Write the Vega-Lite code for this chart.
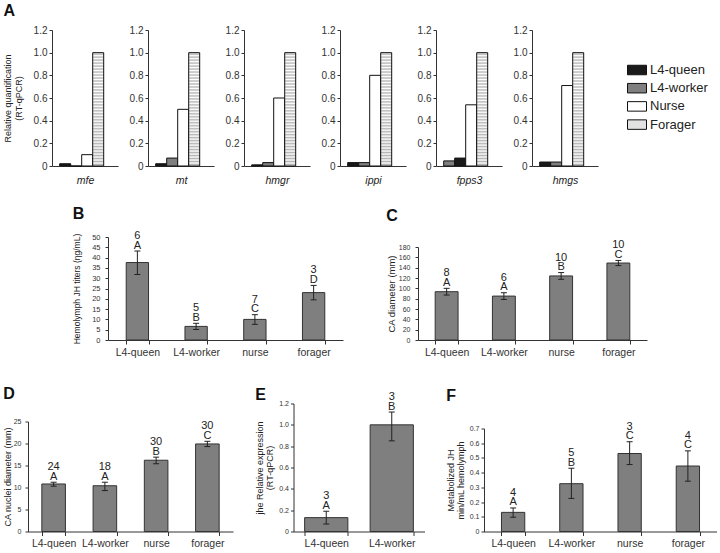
{
  "$schema": "https://vega.github.io/schema/vega-lite/v6.json",
  "background": "white",
  "padding": {"left": 2, "top": 3, "right": 0, "bottom": 0},
  "spacing": 19,
  "datasets": {
    "expr": [
      {"gene": "mfe", "caste": "L4-queen", "value": 0.02},
      {"gene": "mfe", "caste": "L4-worker", "value": 0},
      {"gene": "mfe", "caste": "Nurse", "value": 0.10},
      {"gene": "mfe", "caste": "Forager", "value": 1.0},
      {"gene": "mt", "caste": "L4-queen", "value": 0.02},
      {"gene": "mt", "caste": "L4-worker", "value": 0.07},
      {"gene": "mt", "caste": "Nurse", "value": 0.50},
      {"gene": "mt", "caste": "Forager", "value": 1.0},
      {"gene": "hmgr", "caste": "L4-queen", "value": 0.01},
      {"gene": "hmgr", "caste": "L4-worker", "value": 0.03},
      {"gene": "hmgr", "caste": "Nurse", "value": 0.60},
      {"gene": "hmgr", "caste": "Forager", "value": 1.0},
      {"gene": "ippi", "caste": "L4-queen", "value": 0.03},
      {"gene": "ippi", "caste": "L4-worker", "value": 0.03},
      {"gene": "ippi", "caste": "Nurse", "value": 0.80},
      {"gene": "ippi", "caste": "Forager", "value": 1.0},
      {"gene": "fpps3", "caste": "L4-worker", "value": 0.045},
      {"gene": "fpps3", "caste": "L4-queen", "value": 0.07},
      {"gene": "fpps3", "caste": "Nurse", "value": 0.54},
      {"gene": "fpps3", "caste": "Forager", "value": 1.0},
      {"gene": "hmgs", "caste": "L4-queen", "value": 0.035},
      {"gene": "hmgs", "caste": "L4-worker", "value": 0.035},
      {"gene": "hmgs", "caste": "Nurse", "value": 0.71},
      {"gene": "hmgs", "caste": "Forager", "value": 1.0}
    ]
  },
  "vconcat": [
    {
      "spacing": 0,
      "hconcat": [
        {"width": 1, "height": 1, "data": {"values": []}, "mark": {"type": "point", "opacity": 0}},
        {
          "title": {"text": "A", "offset": 6},
          "spacing": 11,
          "hconcat": [
            {
              "width": 66, "height": 136,
              "data": {"name": "expr"},
              "transform": [{"filter": {"field": "gene", "equal": "mfe"}}],
              "mark": {"type": "bar", "stroke": "#111", "strokeWidth": 1},
              "encoding": {
                "x": {"field": "caste", "type": "nominal", "sort": ["L4-queen", "L4-worker", "Nurse", "Forager"], "scale": {"paddingInner": 0, "paddingOuter": 1.1, "align": 0.35}, "axis": {"title": "mfe", "labels": false, "ticks": false, "titleFontStyle": "italic", "titleFontSize": 10.5, "titlePadding": 9}},
                "y": {"field": "value", "type": "quantitative", "scale": {"domain": [0, 1.2], "nice": false}, "axis": {"values": [0, 0.2, 0.4, 0.6, 0.8, 1, 1.2], "labelExpr": "datum.value == 0 ? '0' : format(datum.value, '.1f')", "labelFontSize": 10, "labelOverlap": false, "title": ["Relative quantification", "(RT-qPCR)"], "titleFontSize": 9, "titlePadding": 9.5}},
                "color": {"condition": {"test": "datum.caste === 'Forager'", "value": {"gradient": "linear", "x1": 0, "y1": 0, "x2": 0, "y2": 1, "stops": [{"offset": 0, "color": "#ffffff"}, {"offset": 0.0132, "color": "#b4b4b4"}, {"offset": 0.0263, "color": "#ffffff"}, {"offset": 0.0395, "color": "#b4b4b4"}, {"offset": 0.0526, "color": "#ffffff"}, {"offset": 0.0658, "color": "#b4b4b4"}, {"offset": 0.0789, "color": "#ffffff"}, {"offset": 0.0921, "color": "#b4b4b4"}, {"offset": 0.1053, "color": "#ffffff"}, {"offset": 0.1184, "color": "#b4b4b4"}, {"offset": 0.1316, "color": "#ffffff"}, {"offset": 0.1447, "color": "#b4b4b4"}, {"offset": 0.1579, "color": "#ffffff"}, {"offset": 0.1711, "color": "#b4b4b4"}, {"offset": 0.1842, "color": "#ffffff"}, {"offset": 0.1974, "color": "#b4b4b4"}, {"offset": 0.2105, "color": "#ffffff"}, {"offset": 0.2237, "color": "#b4b4b4"}, {"offset": 0.2368, "color": "#ffffff"}, {"offset": 0.25, "color": "#b4b4b4"}, {"offset": 0.2632, "color": "#ffffff"}, {"offset": 0.2763, "color": "#b4b4b4"}, {"offset": 0.2895, "color": "#ffffff"}, {"offset": 0.3026, "color": "#b4b4b4"}, {"offset": 0.3158, "color": "#ffffff"}, {"offset": 0.3289, "color": "#b4b4b4"}, {"offset": 0.3421, "color": "#ffffff"}, {"offset": 0.3553, "color": "#b4b4b4"}, {"offset": 0.3684, "color": "#ffffff"}, {"offset": 0.3816, "color": "#b4b4b4"}, {"offset": 0.3947, "color": "#ffffff"}, {"offset": 0.4079, "color": "#b4b4b4"}, {"offset": 0.4211, "color": "#ffffff"}, {"offset": 0.4342, "color": "#b4b4b4"}, {"offset": 0.4474, "color": "#ffffff"}, {"offset": 0.4605, "color": "#b4b4b4"}, {"offset": 0.4737, "color": "#ffffff"}, {"offset": 0.4868, "color": "#b4b4b4"}, {"offset": 0.5, "color": "#ffffff"}, {"offset": 0.5132, "color": "#b4b4b4"}, {"offset": 0.5263, "color": "#ffffff"}, {"offset": 0.5395, "color": "#b4b4b4"}, {"offset": 0.5526, "color": "#ffffff"}, {"offset": 0.5658, "color": "#b4b4b4"}, {"offset": 0.5789, "color": "#ffffff"}, {"offset": 0.5921, "color": "#b4b4b4"}, {"offset": 0.6053, "color": "#ffffff"}, {"offset": 0.6184, "color": "#b4b4b4"}, {"offset": 0.6316, "color": "#ffffff"}, {"offset": 0.6447, "color": "#b4b4b4"}, {"offset": 0.6579, "color": "#ffffff"}, {"offset": 0.6711, "color": "#b4b4b4"}, {"offset": 0.6842, "color": "#ffffff"}, {"offset": 0.6974, "color": "#b4b4b4"}, {"offset": 0.7105, "color": "#ffffff"}, {"offset": 0.7237, "color": "#b4b4b4"}, {"offset": 0.7368, "color": "#ffffff"}, {"offset": 0.75, "color": "#b4b4b4"}, {"offset": 0.7632, "color": "#ffffff"}, {"offset": 0.7763, "color": "#b4b4b4"}, {"offset": 0.7895, "color": "#ffffff"}, {"offset": 0.8026, "color": "#b4b4b4"}, {"offset": 0.8158, "color": "#ffffff"}, {"offset": 0.8289, "color": "#b4b4b4"}, {"offset": 0.8421, "color": "#ffffff"}, {"offset": 0.8553, "color": "#b4b4b4"}, {"offset": 0.8684, "color": "#ffffff"}, {"offset": 0.8816, "color": "#b4b4b4"}, {"offset": 0.8947, "color": "#ffffff"}, {"offset": 0.9079, "color": "#b4b4b4"}, {"offset": 0.9211, "color": "#ffffff"}, {"offset": 0.9342, "color": "#b4b4b4"}, {"offset": 0.9474, "color": "#ffffff"}, {"offset": 0.9605, "color": "#b4b4b4"}, {"offset": 0.9737, "color": "#ffffff"}, {"offset": 0.9868, "color": "#b4b4b4"}, {"offset": 1, "color": "#ffffff"}]}},
                  "field": "caste", "type": "nominal", "scale": {"domain": ["L4-queen", "L4-worker", "Nurse", "Forager"], "range": ["#1a1a1a", "#7f7f7f", "#ffffff", "#e2e2e2"]}, "legend": {"orient": "none", "legendX": 625, "legendY": 30, "title": null, "symbolType": "M-1,-0.5H1V0.5H-1Z", "symbolSize": 361, "symbolStrokeColor": "#111", "symbolStrokeWidth": 1, "labelFontSize": 13, "labelColor": "#222", "labelOffset": 3, "rowPadding": 1.2}}
              }
            },
            {
              "width": 66, "height": 136,
              "data": {"name": "expr"},
              "transform": [{"filter": {"field": "gene", "equal": "mt"}}],
              "mark": {"type": "bar", "stroke": "#111", "strokeWidth": 1},
              "encoding": {
                "x": {"field": "caste", "type": "nominal", "sort": ["L4-queen", "L4-worker", "Nurse", "Forager"], "scale": {"paddingInner": 0, "paddingOuter": 1.1, "align": 0.35}, "axis": {"title": "mt", "labels": false, "ticks": false, "titleFontStyle": "italic", "titleFontSize": 10.5, "titlePadding": 9}},
                "y": {"field": "value", "type": "quantitative", "scale": {"domain": [0, 1.2], "nice": false}, "axis": {"values": [0, 0.2, 0.4, 0.6, 0.8, 1, 1.2], "labelExpr": "datum.value == 0 ? '0' : format(datum.value, '.1f')", "labelFontSize": 10, "labelOverlap": false, "title": null}},
                "color": {"condition": {"test": "datum.caste === 'Forager'", "value": {"gradient": "linear", "x1": 0, "y1": 0, "x2": 0, "y2": 1, "stops": [{"offset": 0, "color": "#ffffff"}, {"offset": 0.0132, "color": "#b4b4b4"}, {"offset": 0.0263, "color": "#ffffff"}, {"offset": 0.0395, "color": "#b4b4b4"}, {"offset": 0.0526, "color": "#ffffff"}, {"offset": 0.0658, "color": "#b4b4b4"}, {"offset": 0.0789, "color": "#ffffff"}, {"offset": 0.0921, "color": "#b4b4b4"}, {"offset": 0.1053, "color": "#ffffff"}, {"offset": 0.1184, "color": "#b4b4b4"}, {"offset": 0.1316, "color": "#ffffff"}, {"offset": 0.1447, "color": "#b4b4b4"}, {"offset": 0.1579, "color": "#ffffff"}, {"offset": 0.1711, "color": "#b4b4b4"}, {"offset": 0.1842, "color": "#ffffff"}, {"offset": 0.1974, "color": "#b4b4b4"}, {"offset": 0.2105, "color": "#ffffff"}, {"offset": 0.2237, "color": "#b4b4b4"}, {"offset": 0.2368, "color": "#ffffff"}, {"offset": 0.25, "color": "#b4b4b4"}, {"offset": 0.2632, "color": "#ffffff"}, {"offset": 0.2763, "color": "#b4b4b4"}, {"offset": 0.2895, "color": "#ffffff"}, {"offset": 0.3026, "color": "#b4b4b4"}, {"offset": 0.3158, "color": "#ffffff"}, {"offset": 0.3289, "color": "#b4b4b4"}, {"offset": 0.3421, "color": "#ffffff"}, {"offset": 0.3553, "color": "#b4b4b4"}, {"offset": 0.3684, "color": "#ffffff"}, {"offset": 0.3816, "color": "#b4b4b4"}, {"offset": 0.3947, "color": "#ffffff"}, {"offset": 0.4079, "color": "#b4b4b4"}, {"offset": 0.4211, "color": "#ffffff"}, {"offset": 0.4342, "color": "#b4b4b4"}, {"offset": 0.4474, "color": "#ffffff"}, {"offset": 0.4605, "color": "#b4b4b4"}, {"offset": 0.4737, "color": "#ffffff"}, {"offset": 0.4868, "color": "#b4b4b4"}, {"offset": 0.5, "color": "#ffffff"}, {"offset": 0.5132, "color": "#b4b4b4"}, {"offset": 0.5263, "color": "#ffffff"}, {"offset": 0.5395, "color": "#b4b4b4"}, {"offset": 0.5526, "color": "#ffffff"}, {"offset": 0.5658, "color": "#b4b4b4"}, {"offset": 0.5789, "color": "#ffffff"}, {"offset": 0.5921, "color": "#b4b4b4"}, {"offset": 0.6053, "color": "#ffffff"}, {"offset": 0.6184, "color": "#b4b4b4"}, {"offset": 0.6316, "color": "#ffffff"}, {"offset": 0.6447, "color": "#b4b4b4"}, {"offset": 0.6579, "color": "#ffffff"}, {"offset": 0.6711, "color": "#b4b4b4"}, {"offset": 0.6842, "color": "#ffffff"}, {"offset": 0.6974, "color": "#b4b4b4"}, {"offset": 0.7105, "color": "#ffffff"}, {"offset": 0.7237, "color": "#b4b4b4"}, {"offset": 0.7368, "color": "#ffffff"}, {"offset": 0.75, "color": "#b4b4b4"}, {"offset": 0.7632, "color": "#ffffff"}, {"offset": 0.7763, "color": "#b4b4b4"}, {"offset": 0.7895, "color": "#ffffff"}, {"offset": 0.8026, "color": "#b4b4b4"}, {"offset": 0.8158, "color": "#ffffff"}, {"offset": 0.8289, "color": "#b4b4b4"}, {"offset": 0.8421, "color": "#ffffff"}, {"offset": 0.8553, "color": "#b4b4b4"}, {"offset": 0.8684, "color": "#ffffff"}, {"offset": 0.8816, "color": "#b4b4b4"}, {"offset": 0.8947, "color": "#ffffff"}, {"offset": 0.9079, "color": "#b4b4b4"}, {"offset": 0.9211, "color": "#ffffff"}, {"offset": 0.9342, "color": "#b4b4b4"}, {"offset": 0.9474, "color": "#ffffff"}, {"offset": 0.9605, "color": "#b4b4b4"}, {"offset": 0.9737, "color": "#ffffff"}, {"offset": 0.9868, "color": "#b4b4b4"}, {"offset": 1, "color": "#ffffff"}]}},
                  "field": "caste", "type": "nominal"}
              }
            },
            {
              "width": 66, "height": 136,
              "data": {"name": "expr"},
              "transform": [{"filter": {"field": "gene", "equal": "hmgr"}}],
              "mark": {"type": "bar", "stroke": "#111", "strokeWidth": 1},
              "encoding": {
                "x": {"field": "caste", "type": "nominal", "sort": ["L4-queen", "L4-worker", "Nurse", "Forager"], "scale": {"paddingInner": 0, "paddingOuter": 1.1, "align": 0.35}, "axis": {"title": "hmgr", "labels": false, "ticks": false, "titleFontStyle": "italic", "titleFontSize": 10.5, "titlePadding": 9}},
                "y": {"field": "value", "type": "quantitative", "scale": {"domain": [0, 1.2], "nice": false}, "axis": {"values": [0, 0.2, 0.4, 0.6, 0.8, 1, 1.2], "labelExpr": "datum.value == 0 ? '0' : format(datum.value, '.1f')", "labelFontSize": 10, "labelOverlap": false, "title": null}},
                "color": {"condition": {"test": "datum.caste === 'Forager'", "value": {"gradient": "linear", "x1": 0, "y1": 0, "x2": 0, "y2": 1, "stops": [{"offset": 0, "color": "#ffffff"}, {"offset": 0.0132, "color": "#b4b4b4"}, {"offset": 0.0263, "color": "#ffffff"}, {"offset": 0.0395, "color": "#b4b4b4"}, {"offset": 0.0526, "color": "#ffffff"}, {"offset": 0.0658, "color": "#b4b4b4"}, {"offset": 0.0789, "color": "#ffffff"}, {"offset": 0.0921, "color": "#b4b4b4"}, {"offset": 0.1053, "color": "#ffffff"}, {"offset": 0.1184, "color": "#b4b4b4"}, {"offset": 0.1316, "color": "#ffffff"}, {"offset": 0.1447, "color": "#b4b4b4"}, {"offset": 0.1579, "color": "#ffffff"}, {"offset": 0.1711, "color": "#b4b4b4"}, {"offset": 0.1842, "color": "#ffffff"}, {"offset": 0.1974, "color": "#b4b4b4"}, {"offset": 0.2105, "color": "#ffffff"}, {"offset": 0.2237, "color": "#b4b4b4"}, {"offset": 0.2368, "color": "#ffffff"}, {"offset": 0.25, "color": "#b4b4b4"}, {"offset": 0.2632, "color": "#ffffff"}, {"offset": 0.2763, "color": "#b4b4b4"}, {"offset": 0.2895, "color": "#ffffff"}, {"offset": 0.3026, "color": "#b4b4b4"}, {"offset": 0.3158, "color": "#ffffff"}, {"offset": 0.3289, "color": "#b4b4b4"}, {"offset": 0.3421, "color": "#ffffff"}, {"offset": 0.3553, "color": "#b4b4b4"}, {"offset": 0.3684, "color": "#ffffff"}, {"offset": 0.3816, "color": "#b4b4b4"}, {"offset": 0.3947, "color": "#ffffff"}, {"offset": 0.4079, "color": "#b4b4b4"}, {"offset": 0.4211, "color": "#ffffff"}, {"offset": 0.4342, "color": "#b4b4b4"}, {"offset": 0.4474, "color": "#ffffff"}, {"offset": 0.4605, "color": "#b4b4b4"}, {"offset": 0.4737, "color": "#ffffff"}, {"offset": 0.4868, "color": "#b4b4b4"}, {"offset": 0.5, "color": "#ffffff"}, {"offset": 0.5132, "color": "#b4b4b4"}, {"offset": 0.5263, "color": "#ffffff"}, {"offset": 0.5395, "color": "#b4b4b4"}, {"offset": 0.5526, "color": "#ffffff"}, {"offset": 0.5658, "color": "#b4b4b4"}, {"offset": 0.5789, "color": "#ffffff"}, {"offset": 0.5921, "color": "#b4b4b4"}, {"offset": 0.6053, "color": "#ffffff"}, {"offset": 0.6184, "color": "#b4b4b4"}, {"offset": 0.6316, "color": "#ffffff"}, {"offset": 0.6447, "color": "#b4b4b4"}, {"offset": 0.6579, "color": "#ffffff"}, {"offset": 0.6711, "color": "#b4b4b4"}, {"offset": 0.6842, "color": "#ffffff"}, {"offset": 0.6974, "color": "#b4b4b4"}, {"offset": 0.7105, "color": "#ffffff"}, {"offset": 0.7237, "color": "#b4b4b4"}, {"offset": 0.7368, "color": "#ffffff"}, {"offset": 0.75, "color": "#b4b4b4"}, {"offset": 0.7632, "color": "#ffffff"}, {"offset": 0.7763, "color": "#b4b4b4"}, {"offset": 0.7895, "color": "#ffffff"}, {"offset": 0.8026, "color": "#b4b4b4"}, {"offset": 0.8158, "color": "#ffffff"}, {"offset": 0.8289, "color": "#b4b4b4"}, {"offset": 0.8421, "color": "#ffffff"}, {"offset": 0.8553, "color": "#b4b4b4"}, {"offset": 0.8684, "color": "#ffffff"}, {"offset": 0.8816, "color": "#b4b4b4"}, {"offset": 0.8947, "color": "#ffffff"}, {"offset": 0.9079, "color": "#b4b4b4"}, {"offset": 0.9211, "color": "#ffffff"}, {"offset": 0.9342, "color": "#b4b4b4"}, {"offset": 0.9474, "color": "#ffffff"}, {"offset": 0.9605, "color": "#b4b4b4"}, {"offset": 0.9737, "color": "#ffffff"}, {"offset": 0.9868, "color": "#b4b4b4"}, {"offset": 1, "color": "#ffffff"}]}},
                  "field": "caste", "type": "nominal"}
              }
            },
            {
              "width": 66, "height": 136,
              "data": {"name": "expr"},
              "transform": [{"filter": {"field": "gene", "equal": "ippi"}}],
              "mark": {"type": "bar", "stroke": "#111", "strokeWidth": 1},
              "encoding": {
                "x": {"field": "caste", "type": "nominal", "sort": ["L4-queen", "L4-worker", "Nurse", "Forager"], "scale": {"paddingInner": 0, "paddingOuter": 1.1, "align": 0.35}, "axis": {"title": "ippi", "labels": false, "ticks": false, "titleFontStyle": "italic", "titleFontSize": 10.5, "titlePadding": 9}},
                "y": {"field": "value", "type": "quantitative", "scale": {"domain": [0, 1.2], "nice": false}, "axis": {"values": [0, 0.2, 0.4, 0.6, 0.8, 1, 1.2], "labelExpr": "datum.value == 0 ? '0' : format(datum.value, '.1f')", "labelFontSize": 10, "labelOverlap": false, "title": null}},
                "color": {"condition": {"test": "datum.caste === 'Forager'", "value": {"gradient": "linear", "x1": 0, "y1": 0, "x2": 0, "y2": 1, "stops": [{"offset": 0, "color": "#ffffff"}, {"offset": 0.0132, "color": "#b4b4b4"}, {"offset": 0.0263, "color": "#ffffff"}, {"offset": 0.0395, "color": "#b4b4b4"}, {"offset": 0.0526, "color": "#ffffff"}, {"offset": 0.0658, "color": "#b4b4b4"}, {"offset": 0.0789, "color": "#ffffff"}, {"offset": 0.0921, "color": "#b4b4b4"}, {"offset": 0.1053, "color": "#ffffff"}, {"offset": 0.1184, "color": "#b4b4b4"}, {"offset": 0.1316, "color": "#ffffff"}, {"offset": 0.1447, "color": "#b4b4b4"}, {"offset": 0.1579, "color": "#ffffff"}, {"offset": 0.1711, "color": "#b4b4b4"}, {"offset": 0.1842, "color": "#ffffff"}, {"offset": 0.1974, "color": "#b4b4b4"}, {"offset": 0.2105, "color": "#ffffff"}, {"offset": 0.2237, "color": "#b4b4b4"}, {"offset": 0.2368, "color": "#ffffff"}, {"offset": 0.25, "color": "#b4b4b4"}, {"offset": 0.2632, "color": "#ffffff"}, {"offset": 0.2763, "color": "#b4b4b4"}, {"offset": 0.2895, "color": "#ffffff"}, {"offset": 0.3026, "color": "#b4b4b4"}, {"offset": 0.3158, "color": "#ffffff"}, {"offset": 0.3289, "color": "#b4b4b4"}, {"offset": 0.3421, "color": "#ffffff"}, {"offset": 0.3553, "color": "#b4b4b4"}, {"offset": 0.3684, "color": "#ffffff"}, {"offset": 0.3816, "color": "#b4b4b4"}, {"offset": 0.3947, "color": "#ffffff"}, {"offset": 0.4079, "color": "#b4b4b4"}, {"offset": 0.4211, "color": "#ffffff"}, {"offset": 0.4342, "color": "#b4b4b4"}, {"offset": 0.4474, "color": "#ffffff"}, {"offset": 0.4605, "color": "#b4b4b4"}, {"offset": 0.4737, "color": "#ffffff"}, {"offset": 0.4868, "color": "#b4b4b4"}, {"offset": 0.5, "color": "#ffffff"}, {"offset": 0.5132, "color": "#b4b4b4"}, {"offset": 0.5263, "color": "#ffffff"}, {"offset": 0.5395, "color": "#b4b4b4"}, {"offset": 0.5526, "color": "#ffffff"}, {"offset": 0.5658, "color": "#b4b4b4"}, {"offset": 0.5789, "color": "#ffffff"}, {"offset": 0.5921, "color": "#b4b4b4"}, {"offset": 0.6053, "color": "#ffffff"}, {"offset": 0.6184, "color": "#b4b4b4"}, {"offset": 0.6316, "color": "#ffffff"}, {"offset": 0.6447, "color": "#b4b4b4"}, {"offset": 0.6579, "color": "#ffffff"}, {"offset": 0.6711, "color": "#b4b4b4"}, {"offset": 0.6842, "color": "#ffffff"}, {"offset": 0.6974, "color": "#b4b4b4"}, {"offset": 0.7105, "color": "#ffffff"}, {"offset": 0.7237, "color": "#b4b4b4"}, {"offset": 0.7368, "color": "#ffffff"}, {"offset": 0.75, "color": "#b4b4b4"}, {"offset": 0.7632, "color": "#ffffff"}, {"offset": 0.7763, "color": "#b4b4b4"}, {"offset": 0.7895, "color": "#ffffff"}, {"offset": 0.8026, "color": "#b4b4b4"}, {"offset": 0.8158, "color": "#ffffff"}, {"offset": 0.8289, "color": "#b4b4b4"}, {"offset": 0.8421, "color": "#ffffff"}, {"offset": 0.8553, "color": "#b4b4b4"}, {"offset": 0.8684, "color": "#ffffff"}, {"offset": 0.8816, "color": "#b4b4b4"}, {"offset": 0.8947, "color": "#ffffff"}, {"offset": 0.9079, "color": "#b4b4b4"}, {"offset": 0.9211, "color": "#ffffff"}, {"offset": 0.9342, "color": "#b4b4b4"}, {"offset": 0.9474, "color": "#ffffff"}, {"offset": 0.9605, "color": "#b4b4b4"}, {"offset": 0.9737, "color": "#ffffff"}, {"offset": 0.9868, "color": "#b4b4b4"}, {"offset": 1, "color": "#ffffff"}]}},
                  "field": "caste", "type": "nominal"}
              }
            },
            {
              "width": 66, "height": 136,
              "data": {"name": "expr"},
              "transform": [{"filter": {"field": "gene", "equal": "fpps3"}}],
              "mark": {"type": "bar", "stroke": "#111", "strokeWidth": 1},
              "encoding": {
                "x": {"field": "caste", "type": "nominal", "sort": ["L4-worker", "L4-queen", "Nurse", "Forager"], "scale": {"paddingInner": 0, "paddingOuter": 1.1, "align": 0.35}, "axis": {"title": "fpps3", "labels": false, "ticks": false, "titleFontStyle": "italic", "titleFontSize": 10.5, "titlePadding": 9}},
                "y": {"field": "value", "type": "quantitative", "scale": {"domain": [0, 1.2], "nice": false}, "axis": {"values": [0, 0.2, 0.4, 0.6, 0.8, 1, 1.2], "labelExpr": "datum.value == 0 ? '0' : format(datum.value, '.1f')", "labelFontSize": 10, "labelOverlap": false, "title": null}},
                "color": {"condition": {"test": "datum.caste === 'Forager'", "value": {"gradient": "linear", "x1": 0, "y1": 0, "x2": 0, "y2": 1, "stops": [{"offset": 0, "color": "#ffffff"}, {"offset": 0.0132, "color": "#b4b4b4"}, {"offset": 0.0263, "color": "#ffffff"}, {"offset": 0.0395, "color": "#b4b4b4"}, {"offset": 0.0526, "color": "#ffffff"}, {"offset": 0.0658, "color": "#b4b4b4"}, {"offset": 0.0789, "color": "#ffffff"}, {"offset": 0.0921, "color": "#b4b4b4"}, {"offset": 0.1053, "color": "#ffffff"}, {"offset": 0.1184, "color": "#b4b4b4"}, {"offset": 0.1316, "color": "#ffffff"}, {"offset": 0.1447, "color": "#b4b4b4"}, {"offset": 0.1579, "color": "#ffffff"}, {"offset": 0.1711, "color": "#b4b4b4"}, {"offset": 0.1842, "color": "#ffffff"}, {"offset": 0.1974, "color": "#b4b4b4"}, {"offset": 0.2105, "color": "#ffffff"}, {"offset": 0.2237, "color": "#b4b4b4"}, {"offset": 0.2368, "color": "#ffffff"}, {"offset": 0.25, "color": "#b4b4b4"}, {"offset": 0.2632, "color": "#ffffff"}, {"offset": 0.2763, "color": "#b4b4b4"}, {"offset": 0.2895, "color": "#ffffff"}, {"offset": 0.3026, "color": "#b4b4b4"}, {"offset": 0.3158, "color": "#ffffff"}, {"offset": 0.3289, "color": "#b4b4b4"}, {"offset": 0.3421, "color": "#ffffff"}, {"offset": 0.3553, "color": "#b4b4b4"}, {"offset": 0.3684, "color": "#ffffff"}, {"offset": 0.3816, "color": "#b4b4b4"}, {"offset": 0.3947, "color": "#ffffff"}, {"offset": 0.4079, "color": "#b4b4b4"}, {"offset": 0.4211, "color": "#ffffff"}, {"offset": 0.4342, "color": "#b4b4b4"}, {"offset": 0.4474, "color": "#ffffff"}, {"offset": 0.4605, "color": "#b4b4b4"}, {"offset": 0.4737, "color": "#ffffff"}, {"offset": 0.4868, "color": "#b4b4b4"}, {"offset": 0.5, "color": "#ffffff"}, {"offset": 0.5132, "color": "#b4b4b4"}, {"offset": 0.5263, "color": "#ffffff"}, {"offset": 0.5395, "color": "#b4b4b4"}, {"offset": 0.5526, "color": "#ffffff"}, {"offset": 0.5658, "color": "#b4b4b4"}, {"offset": 0.5789, "color": "#ffffff"}, {"offset": 0.5921, "color": "#b4b4b4"}, {"offset": 0.6053, "color": "#ffffff"}, {"offset": 0.6184, "color": "#b4b4b4"}, {"offset": 0.6316, "color": "#ffffff"}, {"offset": 0.6447, "color": "#b4b4b4"}, {"offset": 0.6579, "color": "#ffffff"}, {"offset": 0.6711, "color": "#b4b4b4"}, {"offset": 0.6842, "color": "#ffffff"}, {"offset": 0.6974, "color": "#b4b4b4"}, {"offset": 0.7105, "color": "#ffffff"}, {"offset": 0.7237, "color": "#b4b4b4"}, {"offset": 0.7368, "color": "#ffffff"}, {"offset": 0.75, "color": "#b4b4b4"}, {"offset": 0.7632, "color": "#ffffff"}, {"offset": 0.7763, "color": "#b4b4b4"}, {"offset": 0.7895, "color": "#ffffff"}, {"offset": 0.8026, "color": "#b4b4b4"}, {"offset": 0.8158, "color": "#ffffff"}, {"offset": 0.8289, "color": "#b4b4b4"}, {"offset": 0.8421, "color": "#ffffff"}, {"offset": 0.8553, "color": "#b4b4b4"}, {"offset": 0.8684, "color": "#ffffff"}, {"offset": 0.8816, "color": "#b4b4b4"}, {"offset": 0.8947, "color": "#ffffff"}, {"offset": 0.9079, "color": "#b4b4b4"}, {"offset": 0.9211, "color": "#ffffff"}, {"offset": 0.9342, "color": "#b4b4b4"}, {"offset": 0.9474, "color": "#ffffff"}, {"offset": 0.9605, "color": "#b4b4b4"}, {"offset": 0.9737, "color": "#ffffff"}, {"offset": 0.9868, "color": "#b4b4b4"}, {"offset": 1, "color": "#ffffff"}]}},
                  "field": "caste", "type": "nominal"}
              }
            },
            {
              "width": 66, "height": 136,
              "data": {"name": "expr"},
              "transform": [{"filter": {"field": "gene", "equal": "hmgs"}}],
              "mark": {"type": "bar", "stroke": "#111", "strokeWidth": 1},
              "encoding": {
                "x": {"field": "caste", "type": "nominal", "sort": ["L4-queen", "L4-worker", "Nurse", "Forager"], "scale": {"paddingInner": 0, "paddingOuter": 1.1, "align": 0.35}, "axis": {"title": "hmgs", "labels": false, "ticks": false, "titleFontStyle": "italic", "titleFontSize": 10.5, "titlePadding": 9}},
                "y": {"field": "value", "type": "quantitative", "scale": {"domain": [0, 1.2], "nice": false}, "axis": {"values": [0, 0.2, 0.4, 0.6, 0.8, 1, 1.2], "labelExpr": "datum.value == 0 ? '0' : format(datum.value, '.1f')", "labelFontSize": 10, "labelOverlap": false, "title": null}},
                "color": {"condition": {"test": "datum.caste === 'Forager'", "value": {"gradient": "linear", "x1": 0, "y1": 0, "x2": 0, "y2": 1, "stops": [{"offset": 0, "color": "#ffffff"}, {"offset": 0.0132, "color": "#b4b4b4"}, {"offset": 0.0263, "color": "#ffffff"}, {"offset": 0.0395, "color": "#b4b4b4"}, {"offset": 0.0526, "color": "#ffffff"}, {"offset": 0.0658, "color": "#b4b4b4"}, {"offset": 0.0789, "color": "#ffffff"}, {"offset": 0.0921, "color": "#b4b4b4"}, {"offset": 0.1053, "color": "#ffffff"}, {"offset": 0.1184, "color": "#b4b4b4"}, {"offset": 0.1316, "color": "#ffffff"}, {"offset": 0.1447, "color": "#b4b4b4"}, {"offset": 0.1579, "color": "#ffffff"}, {"offset": 0.1711, "color": "#b4b4b4"}, {"offset": 0.1842, "color": "#ffffff"}, {"offset": 0.1974, "color": "#b4b4b4"}, {"offset": 0.2105, "color": "#ffffff"}, {"offset": 0.2237, "color": "#b4b4b4"}, {"offset": 0.2368, "color": "#ffffff"}, {"offset": 0.25, "color": "#b4b4b4"}, {"offset": 0.2632, "color": "#ffffff"}, {"offset": 0.2763, "color": "#b4b4b4"}, {"offset": 0.2895, "color": "#ffffff"}, {"offset": 0.3026, "color": "#b4b4b4"}, {"offset": 0.3158, "color": "#ffffff"}, {"offset": 0.3289, "color": "#b4b4b4"}, {"offset": 0.3421, "color": "#ffffff"}, {"offset": 0.3553, "color": "#b4b4b4"}, {"offset": 0.3684, "color": "#ffffff"}, {"offset": 0.3816, "color": "#b4b4b4"}, {"offset": 0.3947, "color": "#ffffff"}, {"offset": 0.4079, "color": "#b4b4b4"}, {"offset": 0.4211, "color": "#ffffff"}, {"offset": 0.4342, "color": "#b4b4b4"}, {"offset": 0.4474, "color": "#ffffff"}, {"offset": 0.4605, "color": "#b4b4b4"}, {"offset": 0.4737, "color": "#ffffff"}, {"offset": 0.4868, "color": "#b4b4b4"}, {"offset": 0.5, "color": "#ffffff"}, {"offset": 0.5132, "color": "#b4b4b4"}, {"offset": 0.5263, "color": "#ffffff"}, {"offset": 0.5395, "color": "#b4b4b4"}, {"offset": 0.5526, "color": "#ffffff"}, {"offset": 0.5658, "color": "#b4b4b4"}, {"offset": 0.5789, "color": "#ffffff"}, {"offset": 0.5921, "color": "#b4b4b4"}, {"offset": 0.6053, "color": "#ffffff"}, {"offset": 0.6184, "color": "#b4b4b4"}, {"offset": 0.6316, "color": "#ffffff"}, {"offset": 0.6447, "color": "#b4b4b4"}, {"offset": 0.6579, "color": "#ffffff"}, {"offset": 0.6711, "color": "#b4b4b4"}, {"offset": 0.6842, "color": "#ffffff"}, {"offset": 0.6974, "color": "#b4b4b4"}, {"offset": 0.7105, "color": "#ffffff"}, {"offset": 0.7237, "color": "#b4b4b4"}, {"offset": 0.7368, "color": "#ffffff"}, {"offset": 0.75, "color": "#b4b4b4"}, {"offset": 0.7632, "color": "#ffffff"}, {"offset": 0.7763, "color": "#b4b4b4"}, {"offset": 0.7895, "color": "#ffffff"}, {"offset": 0.8026, "color": "#b4b4b4"}, {"offset": 0.8158, "color": "#ffffff"}, {"offset": 0.8289, "color": "#b4b4b4"}, {"offset": 0.8421, "color": "#ffffff"}, {"offset": 0.8553, "color": "#b4b4b4"}, {"offset": 0.8684, "color": "#ffffff"}, {"offset": 0.8816, "color": "#b4b4b4"}, {"offset": 0.8947, "color": "#ffffff"}, {"offset": 0.9079, "color": "#b4b4b4"}, {"offset": 0.9211, "color": "#ffffff"}, {"offset": 0.9342, "color": "#b4b4b4"}, {"offset": 0.9474, "color": "#ffffff"}, {"offset": 0.9605, "color": "#b4b4b4"}, {"offset": 0.9737, "color": "#ffffff"}, {"offset": 0.9868, "color": "#b4b4b4"}, {"offset": 1, "color": "#ffffff"}]}},
                  "field": "caste", "type": "nominal"}
              }
            }
          ]
        }
      ]
    },
    {
      "spacing": 27.5,
      "vconcat": [
        {
          "spacing": 0,
          "hconcat": [
            {"width": 70, "height": 1, "data": {"values": []}, "mark": {"type": "point", "opacity": 0}},
            {
              "spacing": 43,
              "hconcat": [
                {
                  "title": {"text": "B", "offset": 8.5},
                  "width": 235, "height": 103,
                  "data": {"values": [
                    {"group": "L4-queen", "mean": 37.6, "lo": 31.8, "hi": 43.2, "n": "6", "letter": "A"},
                    {"group": "L4-worker", "mean": 6.6, "lo": 5.1, "hi": 8.1, "n": "5", "letter": "B"},
                    {"group": "nurse", "mean": 10.0, "lo": 7.6, "hi": 12.3, "n": "7", "letter": "C"},
                    {"group": "forager", "mean": 23.0, "lo": 19.5, "hi": 26.5, "n": "3", "letter": "D"}
                  ]},
                  "encoding": {
                    "x": {"field": "group", "type": "nominal", "sort": null, "scale": {"paddingInner": 0.62, "paddingOuter": 0.31}, "axis": {"title": null, "labelAngle": 0, "labelFontSize": 10.5, "tickBand": "extent", "tickSize": 4, "labelPadding": 3}}
                  },
                  "layer": [
                    {"mark": {"type": "bar", "fill": "#7f7f7f", "stroke": "#333", "strokeWidth": 1},
                     "encoding": {"y": {"field": "mean", "type": "quantitative", "scale": {"domain": [0, 50], "nice": false}, "axis": {"values": [0, 5, 10, 15, 20, 25, 30, 35, 40, 45, 50], "labelFontSize": 7.5, "labelOverlap": false, "labelPadding": 5, "title": "Hemolymph JH titers (ηg/mL)", "titleFontSize": 8.5, "titlePadding": 10}}}},
                    {"mark": {"type": "rule", "color": "#222"}, "encoding": {"y": {"field": "lo", "type": "quantitative", "axis": {"values": [0, 5, 10, 15, 20, 25, 30, 35, 40, 45, 50], "labelFontSize": 7.5, "labelOverlap": false, "labelPadding": 5, "title": "Hemolymph JH titers (ηg/mL)", "titleFontSize": 8.5, "titlePadding": 10}}, "y2": {"field": "hi"}}},
                    {"mark": {"type": "tick", "color": "#222", "size": 6, "thickness": 1, "opacity": 1}, "encoding": {"y": {"field": "lo", "type": "quantitative", "axis": {"values": [0, 5, 10, 15, 20, 25, 30, 35, 40, 45, 50], "labelFontSize": 7.5, "labelOverlap": false, "labelPadding": 5, "title": "Hemolymph JH titers (ηg/mL)", "titleFontSize": 8.5, "titlePadding": 10}}}},
                    {"mark": {"type": "tick", "color": "#222", "size": 6, "thickness": 1, "opacity": 1}, "encoding": {"y": {"field": "hi", "type": "quantitative", "axis": {"values": [0, 5, 10, 15, 20, 25, 30, 35, 40, 45, 50], "labelFontSize": 7.5, "labelOverlap": false, "labelPadding": 5, "title": "Hemolymph JH titers (ηg/mL)", "titleFontSize": 8.5, "titlePadding": 10}}}},
                    {"mark": {"type": "text", "fontSize": 11, "color": "#222", "baseline": "alphabetic", "dy": -2.5}, "encoding": {"y": {"field": "hi", "type": "quantitative", "axis": {"values": [0, 5, 10, 15, 20, 25, 30, 35, 40, 45, 50], "labelFontSize": 7.5, "labelOverlap": false, "labelPadding": 5, "title": "Hemolymph JH titers (ηg/mL)", "titleFontSize": 8.5, "titlePadding": 10}}, "text": {"field": "letter"}}},
                    {"mark": {"type": "text", "fontSize": 11, "color": "#222", "baseline": "alphabetic", "dy": -12}, "encoding": {"y": {"field": "hi", "type": "quantitative", "axis": {"values": [0, 5, 10, 15, 20, 25, 30, 35, 40, 45, 50], "labelFontSize": 7.5, "labelOverlap": false, "labelPadding": 5, "title": "Hemolymph JH titers (ηg/mL)", "titleFontSize": 8.5, "titlePadding": 10}}, "text": {"field": "n"}}}
                  ]
                },
                {
                  "title": {"text": "C", "offset": 13.5},
                  "width": 229, "height": 103,
                  "data": {"values": [
                    {"group": "L4-queen", "mean": 93.5, "lo": 87, "hi": 100, "n": "8", "letter": "A"},
                    {"group": "L4-worker", "mean": 85, "lo": 78.5, "hi": 91.5, "n": "6", "letter": "A"},
                    {"group": "nurse", "mean": 124, "lo": 117.5, "hi": 130.5, "n": "10", "letter": "B"},
                    {"group": "forager", "mean": 149, "lo": 144, "hi": 154, "n": "10", "letter": "C"}
                  ]},
                  "encoding": {
                    "x": {"field": "group", "type": "nominal", "sort": null, "scale": {"paddingInner": 0.6, "paddingOuter": 0.3}, "axis": {"title": null, "labelAngle": 0, "labelFontSize": 10.5, "tickBand": "extent", "tickSize": 4, "labelPadding": 3}}
                  },
                  "layer": [
                    {"mark": {"type": "bar", "fill": "#7f7f7f", "stroke": "#333", "strokeWidth": 1},
                     "encoding": {"y": {"field": "mean", "type": "quantitative", "scale": {"domain": [0, 180], "range": [103, 10], "nice": false}, "axis": {"values": [0, 20, 40, 60, 80, 100, 120, 140, 160, 180], "labelFontSize": 7, "labelOverlap": false, "labelPadding": 5, "title": "CA diameter (mm)", "titleFontSize": 9.5, "titlePadding": 2}}}},
                    {"mark": {"type": "rule", "color": "#222"}, "encoding": {"y": {"field": "lo", "type": "quantitative", "axis": {"values": [0, 20, 40, 60, 80, 100, 120, 140, 160, 180], "labelFontSize": 7, "labelOverlap": false, "labelPadding": 5, "title": "CA diameter (mm)", "titleFontSize": 9.5, "titlePadding": 2}}, "y2": {"field": "hi"}}},
                    {"mark": {"type": "tick", "color": "#222", "size": 6, "thickness": 1, "opacity": 1}, "encoding": {"y": {"field": "lo", "type": "quantitative", "axis": {"values": [0, 20, 40, 60, 80, 100, 120, 140, 160, 180], "labelFontSize": 7, "labelOverlap": false, "labelPadding": 5, "title": "CA diameter (mm)", "titleFontSize": 9.5, "titlePadding": 2}}}},
                    {"mark": {"type": "tick", "color": "#222", "size": 6, "thickness": 1, "opacity": 1}, "encoding": {"y": {"field": "hi", "type": "quantitative", "axis": {"values": [0, 20, 40, 60, 80, 100, 120, 140, 160, 180], "labelFontSize": 7, "labelOverlap": false, "labelPadding": 5, "title": "CA diameter (mm)", "titleFontSize": 9.5, "titlePadding": 2}}}},
                    {"mark": {"type": "text", "fontSize": 11, "color": "#222", "baseline": "alphabetic", "dy": -2.5}, "encoding": {"y": {"field": "hi", "type": "quantitative", "axis": {"values": [0, 20, 40, 60, 80, 100, 120, 140, 160, 180], "labelFontSize": 7, "labelOverlap": false, "labelPadding": 5, "title": "CA diameter (mm)", "titleFontSize": 9.5, "titlePadding": 2}}, "text": {"field": "letter"}}},
                    {"mark": {"type": "text", "fontSize": 11, "color": "#222", "baseline": "alphabetic", "dy": -12}, "encoding": {"y": {"field": "hi", "type": "quantitative", "axis": {"values": [0, 20, 40, 60, 80, 100, 120, 140, 160, 180], "labelFontSize": 7, "labelOverlap": false, "labelPadding": 5, "title": "CA diameter (mm)", "titleFontSize": 9.5, "titlePadding": 2}}, "text": {"field": "n"}}}
                  ]
                }
              ]
            }
          ]
        },
        {
          "spacing": 0,
          "hconcat": [
            {"width": 1, "height": 1, "data": {"values": []}, "mark": {"type": "point", "opacity": 0}},
            {
              "spacing": 21.5,
              "hconcat": [
                {
                  "title": {"text": "D", "offset": 1.5},
                  "width": 205, "height": 128,
                  "data": {"values": [
                    {"group": "L4-queen", "mean": 10.8, "lo": 10.3, "hi": 11.2, "n": "24", "letter": "A"},
                    {"group": "L4-worker", "mean": 10.4, "lo": 9.3, "hi": 11.2, "n": "18", "letter": "A"},
                    {"group": "nurse", "mean": 16.2, "lo": 15.4, "hi": 16.9, "n": "30", "letter": "B"},
                    {"group": "forager", "mean": 19.9, "lo": 19.3, "hi": 20.5, "n": "30", "letter": "C"}
                  ]},
                  "encoding": {
                    "x": {"field": "group", "type": "nominal", "sort": null, "scale": {"paddingInner": 0.54, "paddingOuter": 0.27}, "axis": {"title": null, "labelAngle": 0, "labelFontSize": 10.5, "tickBand": "extent", "tickSize": 4, "labelPadding": 3}}
                  },
                  "layer": [
                    {"mark": {"type": "bar", "fill": "#7f7f7f", "stroke": "#333", "strokeWidth": 1},
                     "encoding": {"y": {"field": "mean", "type": "quantitative", "scale": {"domain": [0, 25], "range": [128, 18], "nice": false}, "axis": {"values": [0, 5, 10, 15, 20, 25], "labelFontSize": 7, "labelOverlap": false, "labelPadding": 4, "title": "CA nuclei diameter (mm)", "titleFontSize": 9, "titlePadding": 1}}}},
                    {"mark": {"type": "rule", "color": "#222"}, "encoding": {"y": {"field": "lo", "type": "quantitative", "axis": {"values": [0, 5, 10, 15, 20, 25], "labelFontSize": 7, "labelOverlap": false, "labelPadding": 4, "title": "CA nuclei diameter (mm)", "titleFontSize": 9, "titlePadding": 1}}, "y2": {"field": "hi"}}},
                    {"mark": {"type": "tick", "color": "#222", "size": 6, "thickness": 1, "opacity": 1}, "encoding": {"y": {"field": "lo", "type": "quantitative", "axis": {"values": [0, 5, 10, 15, 20, 25], "labelFontSize": 7, "labelOverlap": false, "labelPadding": 4, "title": "CA nuclei diameter (mm)", "titleFontSize": 9, "titlePadding": 1}}}},
                    {"mark": {"type": "tick", "color": "#222", "size": 6, "thickness": 1, "opacity": 1}, "encoding": {"y": {"field": "hi", "type": "quantitative", "axis": {"values": [0, 5, 10, 15, 20, 25], "labelFontSize": 7, "labelOverlap": false, "labelPadding": 4, "title": "CA nuclei diameter (mm)", "titleFontSize": 9, "titlePadding": 1}}}},
                    {"mark": {"type": "text", "fontSize": 11, "color": "#222", "baseline": "alphabetic", "dy": -2.5}, "encoding": {"y": {"field": "hi", "type": "quantitative", "axis": {"values": [0, 5, 10, 15, 20, 25], "labelFontSize": 7, "labelOverlap": false, "labelPadding": 4, "title": "CA nuclei diameter (mm)", "titleFontSize": 9, "titlePadding": 1}}, "text": {"field": "letter"}}},
                    {"mark": {"type": "text", "fontSize": 11, "color": "#222", "baseline": "alphabetic", "dy": -12}, "encoding": {"y": {"field": "hi", "type": "quantitative", "axis": {"values": [0, 5, 10, 15, 20, 25], "labelFontSize": 7, "labelOverlap": false, "labelPadding": 4, "title": "CA nuclei diameter (mm)", "titleFontSize": 9, "titlePadding": 1}}, "text": {"field": "n"}}}
                  ]
                },
                {
                  "title": {"text": "E", "offset": -12},
                  "width": 131, "height": 128,
                  "data": {"values": [
                    {"group": "L4-queen", "mean": 0.13, "lo": 0.07, "hi": 0.19, "n": "3", "letter": "A"},
                    {"group": "L4-worker", "mean": 1.0, "lo": 0.85, "hi": 1.12, "n": "3", "letter": "B"}
                  ]},
                  "encoding": {
                    "x": {"field": "group", "type": "nominal", "sort": null, "scale": {"paddingInner": 0.34, "paddingOuter": 0.17}, "axis": {"title": null, "labelAngle": 0, "labelFontSize": 10.5, "tickBand": "extent", "tickSize": 4, "labelPadding": 3}}
                  },
                  "layer": [
                    {"mark": {"type": "bar", "fill": "#7f7f7f", "stroke": "#333", "strokeWidth": 1},
                     "encoding": {"y": {"field": "mean", "type": "quantitative", "scale": {"domain": [0, 1.2], "nice": false}, "axis": {"values": [0, 0.2, 0.4, 0.6, 0.8, 1, 1.2], "labelExpr": "datum.value == 0 ? '0' : format(datum.value, '.1f')", "labelFontSize": 7, "labelOverlap": false, "labelPadding": 2, "title": ["jhe Relative expression", "(RT-qPCR)"], "titleFontSize": 9, "titleLineHeight": 10, "titlePadding": 4.5}}}},
                    {"mark": {"type": "rule", "color": "#222"}, "encoding": {"y": {"field": "lo", "type": "quantitative", "axis": {"values": [0, 0.2, 0.4, 0.6, 0.8, 1, 1.2], "labelExpr": "datum.value == 0 ? '0' : format(datum.value, '.1f')", "labelFontSize": 7, "labelOverlap": false, "labelPadding": 2, "title": ["jhe Relative expression", "(RT-qPCR)"], "titleFontSize": 9, "titleLineHeight": 10, "titlePadding": 4.5}}, "y2": {"field": "hi"}}},
                    {"mark": {"type": "tick", "color": "#222", "size": 6, "thickness": 1, "opacity": 1}, "encoding": {"y": {"field": "lo", "type": "quantitative", "axis": {"values": [0, 0.2, 0.4, 0.6, 0.8, 1, 1.2], "labelExpr": "datum.value == 0 ? '0' : format(datum.value, '.1f')", "labelFontSize": 7, "labelOverlap": false, "labelPadding": 2, "title": ["jhe Relative expression", "(RT-qPCR)"], "titleFontSize": 9, "titleLineHeight": 10, "titlePadding": 4.5}}}},
                    {"mark": {"type": "tick", "color": "#222", "size": 6, "thickness": 1, "opacity": 1}, "encoding": {"y": {"field": "hi", "type": "quantitative", "axis": {"values": [0, 0.2, 0.4, 0.6, 0.8, 1, 1.2], "labelExpr": "datum.value == 0 ? '0' : format(datum.value, '.1f')", "labelFontSize": 7, "labelOverlap": false, "labelPadding": 2, "title": ["jhe Relative expression", "(RT-qPCR)"], "titleFontSize": 9, "titleLineHeight": 10, "titlePadding": 4.5}}}},
                    {"mark": {"type": "text", "fontSize": 11, "color": "#222", "baseline": "alphabetic", "dy": -2.5}, "encoding": {"y": {"field": "hi", "type": "quantitative", "axis": {"values": [0, 0.2, 0.4, 0.6, 0.8, 1, 1.2], "labelExpr": "datum.value == 0 ? '0' : format(datum.value, '.1f')", "labelFontSize": 7, "labelOverlap": false, "labelPadding": 2, "title": ["jhe Relative expression", "(RT-qPCR)"], "titleFontSize": 9, "titleLineHeight": 10, "titlePadding": 4.5}}, "text": {"field": "letter"}}},
                    {"mark": {"type": "text", "fontSize": 11, "color": "#222", "baseline": "alphabetic", "dy": -12}, "encoding": {"y": {"field": "hi", "type": "quantitative", "axis": {"values": [0, 0.2, 0.4, 0.6, 0.8, 1, 1.2], "labelExpr": "datum.value == 0 ? '0' : format(datum.value, '.1f')", "labelFontSize": 7, "labelOverlap": false, "labelPadding": 2, "title": ["jhe Relative expression", "(RT-qPCR)"], "titleFontSize": 9, "titleLineHeight": 10, "titlePadding": 4.5}}, "text": {"field": "n"}}}
                  ]
                },
                {
                  "title": {"text": "F", "offset": -0.5},
                  "width": 233, "height": 128,
                  "data": {"values": [
                    {"group": "L4-queen", "mean": 0.13, "lo": 0.097, "hi": 0.16, "n": "4", "letter": "A"},
                    {"group": "L4-worker", "mean": 0.325, "lo": 0.225, "hi": 0.43, "n": "5", "letter": "B"},
                    {"group": "nurse", "mean": 0.53, "lo": 0.455, "hi": 0.61, "n": "3", "letter": "C"},
                    {"group": "forager", "mean": 0.445, "lo": 0.342, "hi": 0.548, "n": "4", "letter": "C"}
                  ]},
                  "encoding": {
                    "x": {"field": "group", "type": "nominal", "sort": null, "scale": {"paddingInner": 0.6, "paddingOuter": 0.3}, "axis": {"title": null, "labelAngle": 0, "labelFontSize": 10.5, "tickBand": "extent", "tickSize": 4, "labelPadding": 3}}
                  },
                  "layer": [
                    {"mark": {"type": "bar", "fill": "#7f7f7f", "stroke": "#333", "strokeWidth": 1},
                     "encoding": {"y": {"field": "mean", "type": "quantitative", "scale": {"domain": [0, 0.7], "range": [128, 25], "nice": false}, "axis": {"values": [0, 0.1, 0.2, 0.3, 0.4, 0.5, 0.6, 0.7], "labelExpr": "datum.value == 0 ? '0' : format(datum.value, '.1f')", "labelFontSize": 7, "labelOverlap": false, "labelPadding": 2, "title": ["Metabolized JH", "min/mL hemolymph"], "titleFontSize": 9, "titleLineHeight": 10, "titlePadding": 4}}}},
                    {"mark": {"type": "rule", "color": "#222"}, "encoding": {"y": {"field": "lo", "type": "quantitative", "axis": {"values": [0, 0.1, 0.2, 0.3, 0.4, 0.5, 0.6, 0.7], "labelExpr": "datum.value == 0 ? '0' : format(datum.value, '.1f')", "labelFontSize": 7, "labelOverlap": false, "labelPadding": 2, "title": ["Metabolized JH", "min/mL hemolymph"], "titleFontSize": 9, "titleLineHeight": 10, "titlePadding": 4}}, "y2": {"field": "hi"}}},
                    {"mark": {"type": "tick", "color": "#222", "size": 6, "thickness": 1, "opacity": 1}, "encoding": {"y": {"field": "lo", "type": "quantitative", "axis": {"values": [0, 0.1, 0.2, 0.3, 0.4, 0.5, 0.6, 0.7], "labelExpr": "datum.value == 0 ? '0' : format(datum.value, '.1f')", "labelFontSize": 7, "labelOverlap": false, "labelPadding": 2, "title": ["Metabolized JH", "min/mL hemolymph"], "titleFontSize": 9, "titleLineHeight": 10, "titlePadding": 4}}}},
                    {"mark": {"type": "tick", "color": "#222", "size": 6, "thickness": 1, "opacity": 1}, "encoding": {"y": {"field": "hi", "type": "quantitative", "axis": {"values": [0, 0.1, 0.2, 0.3, 0.4, 0.5, 0.6, 0.7], "labelExpr": "datum.value == 0 ? '0' : format(datum.value, '.1f')", "labelFontSize": 7, "labelOverlap": false, "labelPadding": 2, "title": ["Metabolized JH", "min/mL hemolymph"], "titleFontSize": 9, "titleLineHeight": 10, "titlePadding": 4}}}},
                    {"mark": {"type": "text", "fontSize": 11, "color": "#222", "baseline": "alphabetic", "dy": -2.5}, "encoding": {"y": {"field": "hi", "type": "quantitative", "axis": {"values": [0, 0.1, 0.2, 0.3, 0.4, 0.5, 0.6, 0.7], "labelExpr": "datum.value == 0 ? '0' : format(datum.value, '.1f')", "labelFontSize": 7, "labelOverlap": false, "labelPadding": 2, "title": ["Metabolized JH", "min/mL hemolymph"], "titleFontSize": 9, "titleLineHeight": 10, "titlePadding": 4}}, "text": {"field": "letter"}}},
                    {"mark": {"type": "text", "fontSize": 11, "color": "#222", "baseline": "alphabetic", "dy": -12}, "encoding": {"y": {"field": "hi", "type": "quantitative", "axis": {"values": [0, 0.1, 0.2, 0.3, 0.4, 0.5, 0.6, 0.7], "labelExpr": "datum.value == 0 ? '0' : format(datum.value, '.1f')", "labelFontSize": 7, "labelOverlap": false, "labelPadding": 2, "title": ["Metabolized JH", "min/mL hemolymph"], "titleFontSize": 9, "titleLineHeight": 10, "titlePadding": 4}}, "text": {"field": "n"}}}
                  ]
                }
              ]
            }
          ]
        }
      ]
    }
  ],
  "config": {
    "font": "Liberation Sans",
    "view": {"stroke": null},
    "axis": {"domainColor": "#333", "tickColor": "#333", "labelColor": "#333", "titleColor": "#222", "titleFontWeight": "normal", "grid": false, "tickSize": 3, "labelPadding": 2, "domainWidth": 1, "tickWidth": 1, "labelFont": "Liberation Sans", "titleFont": "Liberation Sans"},
    "title": {"fontSize": 16, "fontWeight": "bold", "anchor": "start", "frame": "bounds", "color": "#111", "font": "Liberation Sans"},
    "legend": {"labelFont": "Liberation Sans"}
  }
}
